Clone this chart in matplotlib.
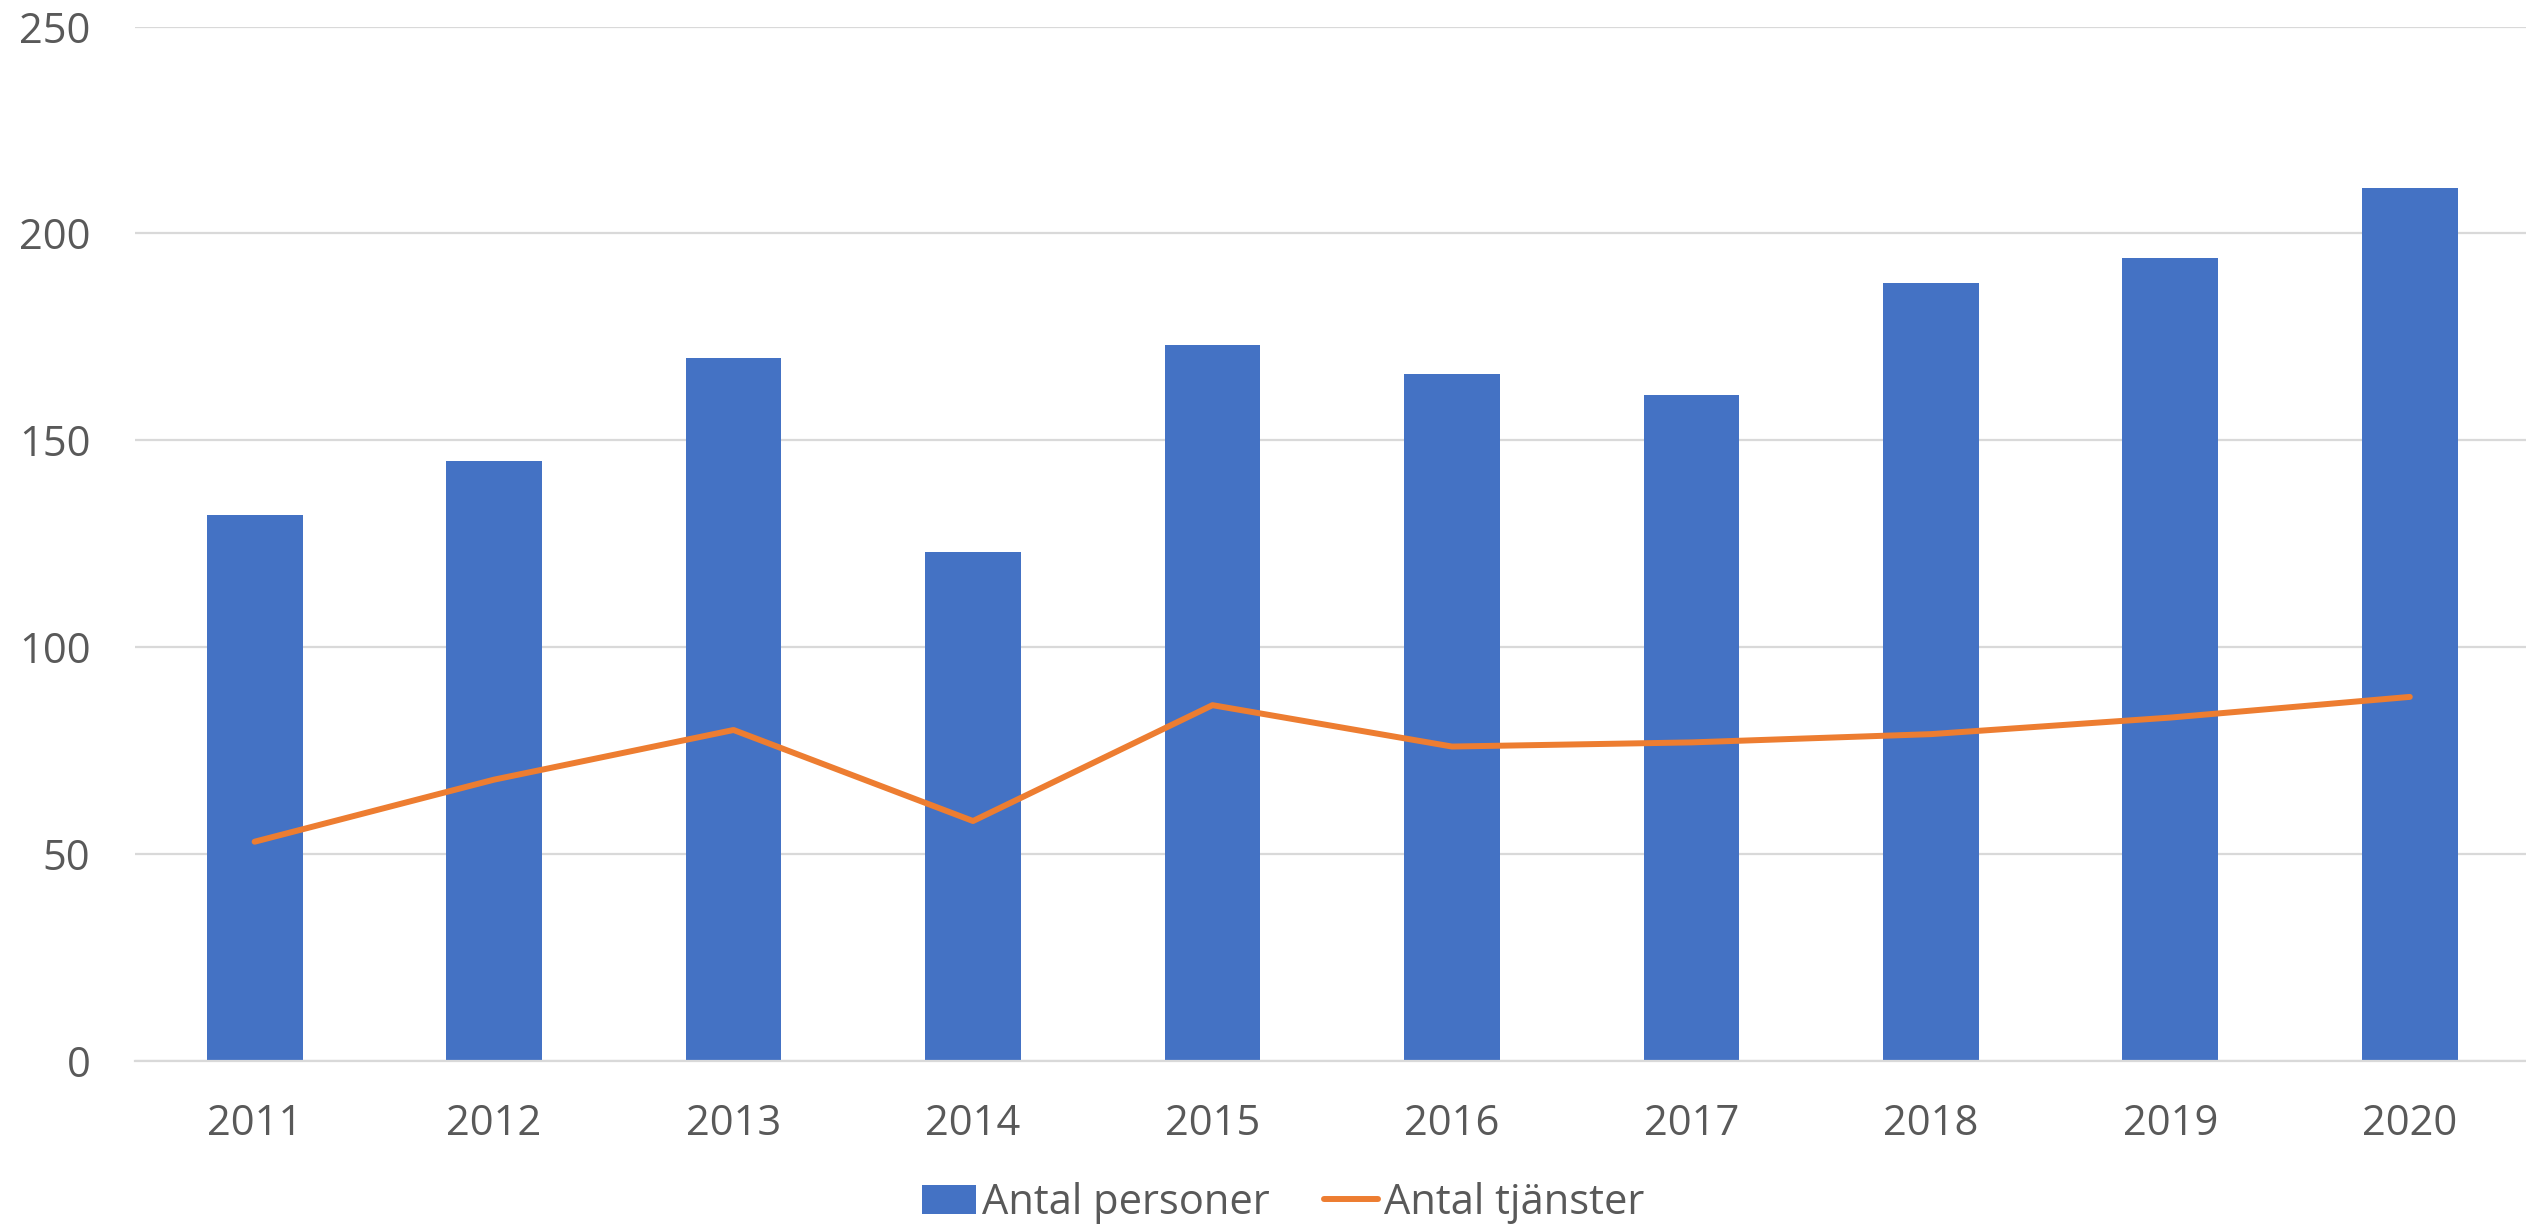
import numpy as np
import matplotlib.pyplot as plt

plt.rcParams['font.family'] = ['Open Sans', 'DejaVu Sans']

# data
years = ['2011', '2012', '2013', '2014', '2015', '2016', '2017', '2018', '2019', '2020']
antal_personer = [132, 145, 170, 123, 173, 166, 161, 188, 194, 211]
antal_tjanster = [53, 68, 80, 58, 86, 76, 77, 79, 83, 88]

blue = '#4472C4'
orange = '#ED7D31'
grid_col = '#D9D9D9'
txt_col = '#595959'

fig = plt.figure(figsize=(25.26, 12.27), dpi=100)
ax = fig.add_axes([0.0534, 0.1353, 0.948, 0.843])

x = np.arange(len(years))
bars = ax.bar(x, antal_personer, width=0.4, color=blue, label='Antal personer', zorder=2)
line, = ax.plot(x, antal_tjanster, color=orange, lw=4.3, solid_capstyle='round',
                solid_joinstyle='round', label='Antal tjänster', zorder=3)

ax.set_xlim(-0.5, len(years) - 0.5)
ax.set_ylim(0, 250)
ax.set_yticks(np.arange(0, 251, 50))
ax.set_xticks(x)
ax.set_xticklabels(years)

ax.yaxis.grid(True, color=grid_col, lw=1.6, zorder=0)
ax.set_axisbelow(True)
for s in ['left', 'right', 'top']:
    ax.spines[s].set_visible(False)
ax.spines['bottom'].set_color(grid_col)
ax.spines['bottom'].set_linewidth(1.6)

ax.tick_params(axis='both', length=0, labelsize=30, labelcolor=txt_col)
ax.tick_params(axis='y', pad=32)
ax.tick_params(axis='x', pad=30)

fig.legend([bars, line], ['Antal personer', 'Antal tjänster'], loc='center',
           bbox_to_anchor=(0.508, 0.0195), ncol=2, frameon=False,
           fontsize=30, labelcolor=txt_col, handlelength=1.3, handleheight=0.7,
           handletextpad=0.15, columnspacing=1.3, borderpad=0)

plt.savefig('out.png', dpi=100)
plt.close()
